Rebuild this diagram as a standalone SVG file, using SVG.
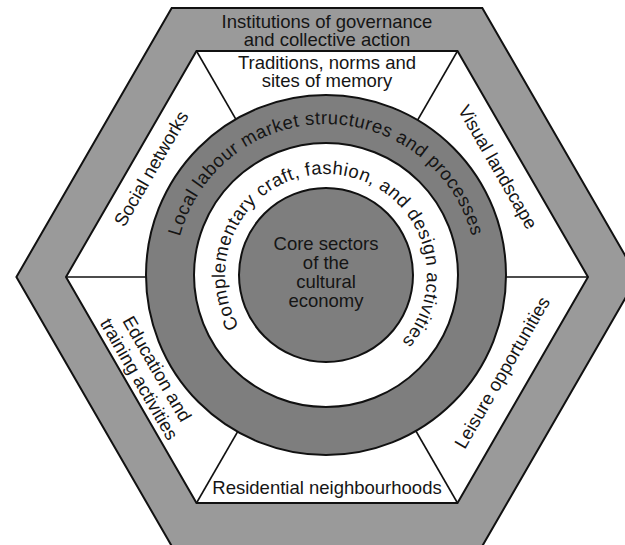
<svg xmlns="http://www.w3.org/2000/svg" width="625" height="545" viewBox="0 0 625 545">
<defs>
<style>
.band{fill:#9a9a9a;stroke:#111;stroke-width:2}
.white{fill:#fff;stroke:#111;stroke-width:2}
.dark{fill:#7e7e7e;stroke:#111;stroke-width:2}
.ring{fill:#fff;stroke:#111;stroke-width:2}
.spoke{stroke:#111;stroke-width:1.6;fill:none}
text{font-family:"Liberation Sans",Arial,Helvetica,sans-serif;font-size:18.5px;fill:#151515;text-anchor:middle}
</style>
<path id="arcLabour" d="M 175,275 A 151 151 0 0 1 477,275"/>
<path id="arcComp" d="M 326,376 A 101 101 0 0 1 326,174 A 101 101 0 0 1 326,376"/>
</defs>

<g id="outer-band">
<polygon class="band" points="637.6,277 482.3,546 171.7,546 16.4,277 171.7,8 482.3,8"/>
<text x="327" y="27.5" font-size="19">Institutions of governance</text>
<text x="327" y="45.5" font-size="19">and collective action</text>
</g>

<g id="inner-hexagon">
<polygon class="white" points="588,277 457.5,503 196.5,503 66,277 196.5,51 457.5,51"/>
</g>

<g id="connectors">
<line class="spoke" x1="196.5" y1="51" x2="327" y2="277"/>
<line class="spoke" x1="457.5" y1="51" x2="327" y2="277"/>
<line class="spoke" x1="66" y1="277" x2="327" y2="277"/>
<line class="spoke" x1="588" y1="277" x2="327" y2="277"/>
<line class="spoke" x1="196.5" y1="503" x2="327" y2="277"/>
<line class="spoke" x1="457.5" y1="503" x2="327" y2="277"/>
</g>

<g id="traditions">
<text x="327" y="68.5">Traditions, norms and</text>
<text x="327" y="86.5">sites of memory</text>
</g>
<g id="social-networks">
<text transform="translate(151,168.5) rotate(-60)" y="6.5">Social networks</text>
</g>
<g id="visual-landscape">
<text transform="translate(498,167) rotate(60)" y="6.5">Visual landscape</text>
</g>
<g id="leisure-opportunities">
<text transform="translate(502,372.5) rotate(-60)" y="6.5">Leisure opportunities</text>
</g>
<g id="education-training">
<text transform="translate(148,374) rotate(60)"><tspan x="0" y="-4">Education and</tspan><tspan x="0" y="16.5">training activities</tspan></text>
</g>
<g id="residential">
<text x="327" y="494">Residential neighbourhoods</text>
</g>

<g id="labour-ring">
<circle class="dark" cx="326" cy="275" r="180"/>
<text letter-spacing="0.5"><textPath href="#arcLabour" startOffset="50%">Local labour market structures and processes</textPath></text>
</g>
<g id="complementary-ring">
<circle class="ring" cx="326" cy="275" r="132"/>
<text letter-spacing="0.5"><textPath href="#arcComp" startOffset="51.5%">Complementary craft, fashion, and design activities</textPath></text>
</g>
<g id="core">
<circle class="dark" cx="326" cy="275" r="87"/>
<text x="326" y="250">Core sectors</text>
<text x="326" y="269">of the</text>
<text x="326" y="288">cultural</text>
<text x="326" y="307">economy</text>
</g>
</svg>
